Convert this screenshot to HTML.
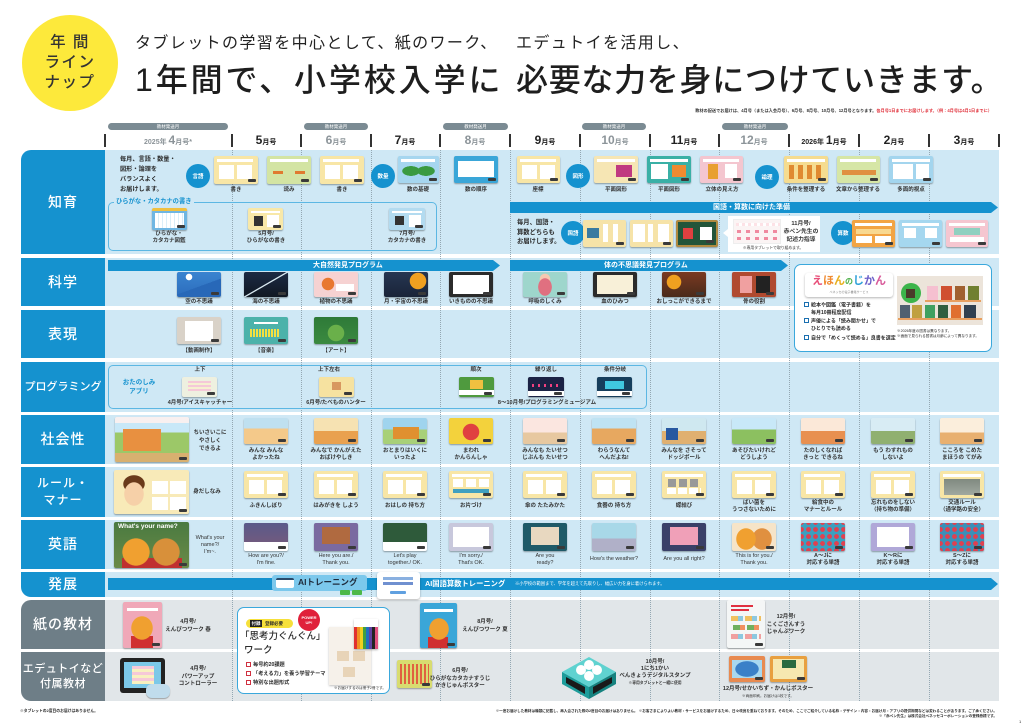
<!DOCTYPE html>
<html><head><meta charset="utf-8">
<style>
*{box-sizing:border-box;margin:0;padding:0}
body{width:1024px;height:728px;position:relative;overflow:hidden;background:#fff;font-family:"Liberation Sans","Noto Sans CJK JP",sans-serif;color:#2a2a2a}
.a{position:absolute}
.rl{position:absolute;left:21px;width:84px;background:#1592cf;color:#fff;display:flex;align-items:center;justify-content:center;text-align:center;font-family:"Liberation Sans","Noto Sans CJK JP",sans-serif;font-weight:500;font-size:14px;line-height:17px;letter-spacing:1px}
.rb{position:absolute;left:105px;width:894px;background:#cfe8f5}
.dl{position:absolute;top:150px;height:551px;width:0;border-left:1px dotted #93a7b2}
.th{position:absolute;border-radius:2px;box-shadow:0 1px 1.5px rgba(0,0,0,.35);width:44px}
.th::after{content:"";position:absolute;right:2px;bottom:2px;width:8px;height:3px;border-radius:1px;background:#3a3a3a}
.lb{position:absolute;transform:translateX(-50%);white-space:nowrap;text-align:center;font-size:5.5px;line-height:7px;font-weight:bold;color:#333}
.ci{position:absolute;width:24px;height:24px;border-radius:50%;background:#1592cf;color:#fff;font-size:5.5px;font-weight:bold;display:flex;align-items:center;justify-content:center}
.ban{position:absolute;background:#1592cf;color:#fff;font-weight:bold;font-size:7px;line-height:11px;white-space:nowrap;clip-path:polygon(0 0,calc(100% - 7px) 0,100% 50%,calc(100% - 7px) 100%,0 100%)}
.mo{position:absolute;top:133px;transform:translateX(-50%);white-space:nowrap;font-weight:bold;font-size:12px;line-height:14px;color:#222}
.mo small{font-size:7px}
.g{color:#8c9499}
.vl{position:absolute;top:134px;width:1.5px;height:13px;background:#333}
.pill{position:absolute;top:123px;height:7px;border-radius:4px;background:#7b8b93;color:#fff;font-size:4.5px;line-height:7px;text-align:center}
.yl{background:linear-gradient(#fff,#fff) 3px 3px/36px 3px no-repeat,linear-gradient(#fff,#fff) 5px 9px/15px 14px no-repeat,linear-gradient(#fff,#fff) 23px 9px/15px 14px no-repeat,#f8e6a6}
.ck{display:inline-block;width:5px;height:5px;border:0.8px solid #1a6fb0;margin-right:2px;vertical-align:-0.5px;background:#fff}
.ckr{display:inline-block;width:5px;height:5px;border:0.8px solid #d03040;margin-right:2px;vertical-align:-0.5px;background:#fff}
</style></head><body>

<!-- header -->
<div class="a" style="left:22px;top:15px;width:96px;height:96px;border-radius:50%;background:#fde93b"></div>
<div class="a" style="left:22px;top:33px;width:96px;text-align:center;font-family:'Liberation Sans','Noto Sans CJK JP',sans-serif;font-size:15.5px;line-height:20px;font-weight:500;letter-spacing:1.5px;color:#333">年 間<br>ライン<br>ナップ</div>

<div class="a" style="left:135px;top:35px;font-size:16px;line-height:18px;letter-spacing:1.4px;white-space:nowrap;color:#222">タブレットの学習を中心として、紙のワーク、</div>
<div class="a" style="left:516px;top:35px;font-size:16px;line-height:18px;letter-spacing:1.4px;white-space:nowrap;color:#222">エデュトイを活用し、</div>
<div class="a" style="left:135px;top:62px;font-size:32px;line-height:36px;letter-spacing:2.9px;white-space:nowrap;font-weight:500;color:#1e1e1e">1年間で、小学校入学に</div>
<div class="a" style="left:516px;top:62px;font-size:32px;line-height:36px;letter-spacing:0.7px;white-space:nowrap;font-weight:500;color:#1e1e1e">必要な力を身につけていきます。</div>

<div class="a" style="right:32px;top:108px;font-size:4.2px;line-height:6px;white-space:nowrap;font-weight:bold;color:#333">教材の配送でお届けは、4月号（または入会月号）、6月号、8月号、10月号、12月号となります。<span style="color:#e0303a">各月号1日までにお届けします。（例：4月号は4月1日までに）</span></div>

<div class="pill" style="left:108px;width:120px">教材発送月</div>
<div class="pill" style="left:304px;width:64px">教材発送月</div>
<div class="pill" style="left:443px;width:65px">教材発送月</div>
<div class="pill" style="left:582px;width:64px">教材発送月</div>
<div class="pill" style="left:722px;width:66px">教材発送月</div>

<div class="vl" style="left:104px"></div><div class="vl" style="left:231px"></div><div class="vl" style="left:300px"></div><div class="vl" style="left:370px"></div><div class="vl" style="left:439px"></div><div class="vl" style="left:509px"></div><div class="vl" style="left:579px"></div><div class="vl" style="left:649px"></div><div class="vl" style="left:718px"></div><div class="vl" style="left:788px"></div><div class="vl" style="left:858px"></div><div class="vl" style="left:928px"></div><div class="vl" style="left:998px"></div>

<div class="mo g" style="left:168px"><small>2025年 </small>4<small>月号*</small></div>
<div class="mo" style="left:266px">5<small>月号</small></div>
<div class="mo g" style="left:336px">6<small>月号</small></div>
<div class="mo" style="left:405px">7<small>月号</small></div>
<div class="mo g" style="left:475px">8<small>月号</small></div>
<div class="mo" style="left:545px">9<small>月号</small></div>
<div class="mo g" style="left:615px">10<small>月号</small></div>
<div class="mo" style="left:684px">11<small>月号</small></div>
<div class="mo g" style="left:754px">12<small>月号</small></div>
<div class="mo" style="left:824px"><small>2026年 </small>1<small>月号</small></div>
<div class="mo" style="left:894px">2<small>月号</small></div>
<div class="mo" style="left:964px">3<small>月号</small></div>

<!-- row labels -->
<div class="rl" style="top:150px;height:104px;border-top-left-radius:10px">知育</div>
<div class="rl" style="top:258px;height:48px">科学</div>
<div class="rl" style="top:310px;height:48px">表現</div>
<div class="rl" style="top:362px;height:50px;font-size:11px;letter-spacing:0">プログラミング</div>
<div class="rl" style="top:415px;height:49px">社会性</div>
<div class="rl" style="top:467px;height:50px;font-size:12px;line-height:17px">ルール・<br>マナー</div>
<div class="rl" style="top:520px;height:49px">英語</div>
<div class="rl" style="top:572px;height:25px;border-bottom-left-radius:10px">発展</div>
<div class="rl" style="top:600px;height:49px;background:#6e7e87;border-top-left-radius:10px">紙の教材</div>
<div class="rl" style="top:652px;height:49px;background:#6e7e87;border-bottom-left-radius:10px;font-size:11px;line-height:15px;letter-spacing:0.5px">エデュトイなど<br>付属教材</div>

<!-- row backgrounds -->
<div class="rb" style="top:150px;height:104px"></div>
<div class="rb" style="top:258px;height:48px"></div>
<div class="rb" style="top:310px;height:48px"></div>
<div class="rb" style="top:362px;height:50px"></div>
<div class="rb" style="top:415px;height:49px"></div>
<div class="rb" style="top:467px;height:50px"></div>
<div class="rb" style="top:520px;height:49px"></div>
<div class="rb" style="top:572px;height:25px"></div>
<div class="rb" style="top:600px;height:49px;background:#e1e6e9"></div>
<div class="rb" style="top:652px;height:49px;background:#e1e6e9"></div>

<!-- dotted column lines -->
<div class="dl" style="left:232px"></div><div class="dl" style="left:301px"></div><div class="dl" style="left:371px"></div><div class="dl" style="left:440px"></div><div class="dl" style="left:510px"></div><div class="dl" style="left:580px"></div><div class="dl" style="left:650px"></div><div class="dl" style="left:719px"></div><div class="dl" style="left:789px"></div><div class="dl" style="left:859px"></div><div class="dl" style="left:929px"></div>

<!-- 知育 row 1 -->
<div class="a" style="left:120px;top:155px;font-size:6.2px;line-height:10px;font-weight:bold;white-space:nowrap">毎月、言語・数量・<br>図形・論理を<br>バランスよく<br>お届けします。</div>
<div class="ci" style="left:186px;top:164px">言語</div>
<div class="ci" style="left:371px;top:164px">数量</div>
<div class="ci" style="left:566px;top:164px">図形</div>
<div class="ci" style="left:755px;top:165px">論理</div>

<div class="th yl" style="left:214px;top:156px;height:28px"></div>
<div class="th" style="left:267px;top:156px;height:28px;background:linear-gradient(#fff,#fff) 3px 3px/38px 3px no-repeat,linear-gradient(#e07a30,#e07a30) 6px 15px/10px 3px no-repeat,linear-gradient(#e07a30,#e07a30) 28px 15px/10px 3px no-repeat,#d3e4a3"></div>
<div class="th yl" style="left:320px;top:156px;height:28px"></div>
<div class="th" style="left:398px;top:156px;height:27px;width:41px;background:linear-gradient(#fff,#fff) 3px 3px/34px 3px no-repeat,radial-gradient(ellipse 9px 5px at 13px 15px,#3a9a40 95%,transparent),radial-gradient(ellipse 9px 5px at 28px 15px,#3a9a40 95%,transparent),#a6d6ef"></div>
<div class="th" style="left:454px;top:156px;height:27px;background:linear-gradient(#fff,#fff) 4px 5px/36px 16px no-repeat,#3aa6d8"></div>
<div class="th yl" style="left:517px;top:156px;height:27px;width:43px"></div>
<div class="th" style="left:594px;top:156px;height:27px;background:linear-gradient(#fff,#fff) 3px 3px/38px 3px no-repeat,linear-gradient(#c03a80,#c03a80) 22px 9px/16px 12px no-repeat,#f6e6b4"></div>
<div class="th" style="left:647px;top:156px;height:27px;background:linear-gradient(#fff,#fff) 3px 3px/38px 3px no-repeat,linear-gradient(#fff,#fff) 4px 8px/17px 15px no-repeat,linear-gradient(#f08a30,#f08a30) 25px 9px/14px 12px no-repeat,#3ab0a6"></div>
<div class="th" style="left:700px;top:156px;height:27px;width:43px;background:linear-gradient(#fff,#fff) 3px 3px/36px 3px no-repeat,linear-gradient(#e8a030,#e8a030) 8px 8px/10px 15px no-repeat,linear-gradient(#fff,#fff) 25px 8px/12px 14px no-repeat,#f4c6cf"></div>
<div class="th" style="left:784px;top:156px;height:27px;background:linear-gradient(#fff,#fff) 3px 3px/38px 3px no-repeat,repeating-linear-gradient(90deg,#e08a30 0 5px,transparent 5px 9px) 5px 9px/36px 14px no-repeat,#f5dc90"></div>
<div class="th" style="left:837px;top:156px;height:27px;width:43px;background:linear-gradient(#fff,#fff) 3px 3px/36px 3px no-repeat,linear-gradient(#e09040,#e09040) 5px 14px/34px 5px no-repeat,#d6e6a6"></div>
<div class="th" style="left:889px;top:156px;height:27px;background:linear-gradient(#fff,#fff) 3px 3px/38px 3px no-repeat,linear-gradient(#fff,#fff) 4px 8px/20px 15px no-repeat,linear-gradient(#fff,#fff) 27px 8px/13px 15px no-repeat,#a3d5ee"></div>

<div class="lb" style="left:236px;top:187px">書き</div>
<div class="lb" style="left:289px;top:187px">読み</div>
<div class="lb" style="left:342px;top:187px">書き</div>
<div class="lb" style="left:418px;top:187px">数の基礎</div>
<div class="lb" style="left:476px;top:187px">数の順序</div>
<div class="lb" style="left:538px;top:187px">座標</div>
<div class="lb" style="left:616px;top:187px">平面図形</div>
<div class="lb" style="left:669px;top:187px">平面図形</div>
<div class="lb" style="left:722px;top:187px">立体の見え方</div>
<div class="lb" style="left:806px;top:187px">条件を整理する</div>
<div class="lb" style="left:858px;top:187px">文章から整理する</div>
<div class="lb" style="left:911px;top:187px">多面的視点</div>

<!-- 知育 row 2 -->
<div class="a" style="left:108px;top:202px;width:329px;height:49px;border:1px solid #5cb7e3;border-radius:5px"></div>
<div class="a" style="left:114px;top:198px;padding:0 2px;background:#cfe8f5;color:#1592cf;font-size:6.3px;line-height:8px;font-weight:bold;white-space:nowrap">ひらがな・カタカナの書き</div>
<div class="th" style="left:152px;top:208px;width:35px;height:22px;background:linear-gradient(#f0c040,#f0c040) 0 0/100% 3px no-repeat,repeating-linear-gradient(90deg,#fff 0 3px,#dbeef8 3px 4px) 3px 5px/29px 15px no-repeat,#6fb6e2"></div>
<div class="th" style="left:248px;top:208px;width:35px;height:22px;background:linear-gradient(#fff,#fff) 3px 3px/29px 2px no-repeat,linear-gradient(#333,#333) 6px 8px/9px 10px no-repeat,linear-gradient(#fff,#fff) 19px 7px/12px 12px no-repeat,#f8e8a8"></div>
<div class="th" style="left:389px;top:208px;width:36px;height:22px;background:linear-gradient(#fff,#fff) 3px 3px/30px 2px no-repeat,linear-gradient(#333,#333) 6px 8px/9px 9px no-repeat,linear-gradient(#fff,#fff) 20px 7px/12px 12px no-repeat,#b3dbf0"></div>
<div class="lb" style="left:169px;top:231px">ひらがな・<br>カタカナ図鑑</div>
<div class="lb" style="left:266px;top:231px">5月号/<br>ひらがなの書き</div>
<div class="lb" style="left:407px;top:231px">7月号/<br>カタカナの書き</div>

<div class="ban" style="left:510px;top:202px;width:488px;height:11px;padding-left:203px">国語・算数に向けた準備</div>
<div class="a" style="left:517px;top:218px;font-size:6.3px;line-height:9.5px;font-weight:bold;white-space:nowrap">毎月、国語・<br>算数どちらも<br>お届けします。</div>
<div class="ci" style="left:561px;top:221px">国語</div>
<div class="th" style="left:583px;top:220px;width:43px;height:27px;background:linear-gradient(#3a7aa0,#3a7aa0) 4px 8px/12px 10px no-repeat,linear-gradient(#fff,#fff) 20px 4px/5px 18px no-repeat,linear-gradient(#fff,#fff) 30px 4px/5px 18px no-repeat,#f6e3a8"></div>
<div class="th" style="left:630px;top:220px;width:43px;height:27px;background:linear-gradient(#fff,#fff) 3px 4px/12px 18px no-repeat,linear-gradient(#fff,#fff) 18px 4px/5px 18px no-repeat,linear-gradient(#fff,#fff) 28px 4px/11px 18px no-repeat,#f6e3a8"></div>
<div class="th" style="left:676px;top:220px;width:42px;height:27px;border:2px solid #b08a40;background:linear-gradient(#e04040,#e04040) 5px 6px/10px 11px no-repeat,linear-gradient(#fff,#fff) 22px 5px/12px 13px no-repeat,#22553a"></div>
<div class="a" style="left:728px;top:216px;width:92px;height:36px;background:#fff"></div>
<div class="a" style="left:723px;top:229px;width:0;height:0;border-top:4px solid transparent;border-bottom:4px solid transparent;border-right:5px solid #fff"></div>
<div class="a" style="left:733px;top:219px;width:48px;height:25px;background:repeating-linear-gradient(90deg,#fde2e6 0 3px,#fff 3px 6px) 2px 3px/44px 3px no-repeat,repeating-linear-gradient(90deg,#f08aa0 0 4px,transparent 4px 9px) 3px 10px/42px 3px no-repeat,repeating-linear-gradient(90deg,#f08aa0 0 4px,transparent 4px 9px) 3px 17px/42px 3px no-repeat,#fbf4f4;border:0.5px solid #eee"></div>
<div class="lb" style="left:801px;top:220px;line-height:8px;font-size:5.8px">11月号/<br>赤ペン先生の<br>記述力指導</div>
<div class="lb" style="left:773px;top:246px;font-size:3.8px;line-height:5px;font-weight:normal">※専用タブレットで取り組めます。</div>
<div class="ci" style="left:831px;top:221px">算数</div>
<div class="th" style="left:852px;top:220px;width:43px;height:27px;background:linear-gradient(#fff,#fff) 3px 3px/37px 3px no-repeat,linear-gradient(#f8d890,#f8d890) 4px 9px/35px 5px no-repeat,linear-gradient(#fff,#fff) 4px 16px/16px 7px no-repeat,linear-gradient(#fff,#fff) 23px 16px/16px 7px no-repeat,#f2a444"></div>
<div class="th" style="left:899px;top:220px;width:43px;height:27px;background:linear-gradient(#fff,#fff) 3px 3px/37px 3px no-repeat,linear-gradient(#fff,#fff) 5px 8px/12px 10px no-repeat,linear-gradient(#fff,#fff) 26px 8px/12px 10px no-repeat,#a5d7ef"></div>
<div class="th" style="left:946px;top:220px;width:42px;height:27px;background:linear-gradient(#fff,#fff) 3px 3px/36px 3px no-repeat,linear-gradient(#8fd0c0,#8fd0c0) 8px 8px/26px 7px no-repeat,linear-gradient(#fff,#fff) 4px 17px/34px 5px no-repeat,#f5c6d0"></div>

<!-- 科学 -->
<div class="ban" style="left:108px;top:260px;width:392px;height:11px;padding-left:205px">大自然発見プログラム</div>
<div class="ban" style="left:510px;top:260px;width:278px;height:11px;padding-left:94px">体の不思議発見プログラム</div>
<div class="th" style="left:177px;top:272px;height:25px;background:linear-gradient(160deg,transparent 55%,#2868b8 55%),radial-gradient(circle at 12px 5px,#fff 3px,transparent 3.5px),linear-gradient(#3a84d0,#2c6cbc)"></div>
<div class="th" style="left:244px;top:272px;height:25px;background:linear-gradient(150deg,transparent 48%,#d8e8f0 49% 51%,transparent 52%),linear-gradient(#1c2a44,#111822)"></div>
<div class="th" style="left:314px;top:272px;height:25px;background:radial-gradient(circle at 14px 12px,#e87830 6px,transparent 6.5px),linear-gradient(#fff,#fff) 22px 12px/18px 7px no-repeat,#f6d2d2"></div>
<div class="th" style="left:384px;top:272px;height:25px;background:radial-gradient(circle at 34px 9px,#f0a020 8px,transparent 8.5px),linear-gradient(#263652,#1a2438)"></div>
<div class="th" style="left:449px;top:272px;height:25px;background:linear-gradient(#fff,#fff) 4px 3px/36px 19px no-repeat,linear-gradient(#c87830,#c87830) 6px 10px/15px 9px no-repeat,#2b2b2b"></div>
<div class="th" style="left:523px;top:272px;height:25px;background:radial-gradient(ellipse 7px 9px at 22px 15px,#e07080 95%,transparent),radial-gradient(circle at 22px 7px,#f6c8b0 5px,transparent 5.5px),#9ed6cc"></div>
<div class="th" style="left:593px;top:272px;height:25px;background:linear-gradient(#f8f0d8,#f8f0d8) 4px 3px/36px 19px no-repeat,linear-gradient(#e05050,#e05050) 6px 10px/32px 5px no-repeat,#2b2b2b"></div>
<div class="th" style="left:662px;top:272px;height:25px;background:radial-gradient(circle at 12px 10px,#f0a020 7px,transparent 7.5px),linear-gradient(#7a3a22,#4a2a1a)"></div>
<div class="th" style="left:732px;top:272px;height:25px;background:linear-gradient(#f0a0a0,#f0a0a0) 8px 4px/12px 17px no-repeat,linear-gradient(#222,#222) 24px 4px/14px 17px no-repeat,#b04a30"></div>
<div class="lb" style="left:199px;top:299px">空の不思議</div>
<div class="lb" style="left:266px;top:299px">海の不思議</div>
<div class="lb" style="left:336px;top:299px">植物の不思議</div>
<div class="lb" style="left:406px;top:299px">月・宇宙の不思議</div>
<div class="lb" style="left:471px;top:299px">いきものの不思議</div>
<div class="lb" style="left:545px;top:299px">呼吸のしくみ</div>
<div class="lb" style="left:615px;top:299px">血のひみつ</div>
<div class="lb" style="left:684px;top:299px">おしっこができるまで</div>
<div class="lb" style="left:754px;top:299px">骨の役割</div>

<!-- えほんのじかん -->
<div class="a" style="left:794px;top:264px;width:198px;height:88px;background:#fff;border:1.5px solid #3aa8dc;border-radius:7px"></div>
<div class="a" style="left:805px;top:273px;width:88px;height:24px;background:#fff;border-radius:3px;box-shadow:0 1px 2px rgba(0,0,0,.3);text-align:center;font-size:11px;line-height:17px;font-weight:bold;white-space:nowrap"><span style="color:#e8507a">え</span><span style="color:#f08a30">ほ</span><span style="color:#e8b020">ん</span><span style="color:#4cb048;font-size:8px">の</span><span style="color:#2ea0d8">じ</span><span style="color:#6a5ec8">か</span><span style="color:#d85a9a">ん</span><div style="font-size:3px;line-height:4px;color:#888;font-weight:normal">ベネッセの電子書籍サービス</div></div>
<div class="a" style="left:804px;top:302px;font-size:5px;line-height:7.5px;font-weight:bold;white-space:nowrap"><span class="ck"></span>絵本や図鑑（電子書籍）を<br><span style="padding-left:7px">毎月10冊程度配信</span></div>
<div class="a" style="left:804px;top:318px;font-size:5px;line-height:7.5px;font-weight:bold;white-space:nowrap"><span class="ck"></span>声優による「読み聞かせ」で<br><span style="padding-left:7px">ひとりでも読める</span></div>
<div class="a" style="left:804px;top:335px;font-size:5px;line-height:7.5px;font-weight:bold;white-space:nowrap"><span class="ck"></span>自分で「めくって読める」良書を選定</div>
<div class="a" style="left:897px;top:273px;width:86px;height:52px;background:#ece4da;border-top:3px solid #fff"></div>
<div class="a" style="left:901px;top:283px;width:20px;height:20px;border-radius:50%;background:#3cb44a"></div>
<div class="a" style="left:906px;top:289px;width:9px;height:9px;background:#4a3a2a"></div>
<div class="a" style="left:927px;top:286px;width:11px;height:14px;background:#f5c0d0"></div>
<div class="a" style="left:941px;top:286px;width:11px;height:14px;background:#d05030"></div>
<div class="a" style="left:955px;top:286px;width:10px;height:14px;background:#a06030"></div>
<div class="a" style="left:968px;top:286px;width:11px;height:14px;background:#708030"></div>
<div class="a" style="left:925px;top:300px;width:56px;height:2px;background:#e8a060"></div>
<div class="a" style="left:900px;top:305px;width:10px;height:13px;background:#506070"></div>
<div class="a" style="left:912px;top:305px;width:10px;height:13px;background:#c0a040"></div>
<div class="a" style="left:925px;top:305px;width:10px;height:13px;background:#40a060"></div>
<div class="a" style="left:938px;top:305px;width:10px;height:13px;background:#306040"></div>
<div class="a" style="left:951px;top:305px;width:10px;height:13px;background:#e07030"></div>
<div class="a" style="left:964px;top:305px;width:12px;height:13px;background:#304050"></div>
<div class="a" style="left:898px;top:318px;width:84px;height:2px;background:#e8a060"></div>
<div class="a" style="left:897px;top:329px;font-size:3.6px;line-height:4.8px;white-space:nowrap">※2026年度の図書は異なります。<br>※画面で見られる図書は月齢によって異なります。</div>

<!-- 表現 -->
<div class="th" style="left:177px;top:317px;height:27px;background:linear-gradient(#fff,#fff) 8px 4px/28px 20px no-repeat,repeating-linear-gradient(90deg,#e8c8a0 0 1px,transparent 1px 7px) 8px 4px/28px 20px no-repeat,#d9d2c8"></div>
<div class="th" style="left:244px;top:317px;height:27px;background:repeating-linear-gradient(90deg,#f4e040 0 2px,transparent 2px 3px) 6px 12px/30px 8px no-repeat,linear-gradient(#fff,#fff) 10px 5px/24px 2px no-repeat,#4cb2aa"></div>
<div class="th" style="left:314px;top:317px;height:27px;background:radial-gradient(circle at 22px 16px,#6ab04a 8px,transparent 8.5px),linear-gradient(#2e7a38,#3b8a40)"></div>
<div class="lb" style="left:199px;top:348px">【動画制作】</div>
<div class="lb" style="left:266px;top:348px">【音楽】</div>
<div class="lb" style="left:336px;top:348px">【アート】</div>

<!-- プログラミング -->
<div class="a" style="left:108px;top:365px;width:539px;height:44px;border:1px solid #5cb7e3;border-radius:5px"></div>
<div class="a" style="left:121px;top:378px;width:36px;text-align:center;color:#1592cf;font-size:6.5px;line-height:9px;font-weight:bold;white-space:nowrap">おたのしみ<br>アプリ</div>
<div class="lb" style="left:200px;top:367px">上下</div>
<div class="lb" style="left:329px;top:367px">上下左右</div>
<div class="lb" style="left:476px;top:367px">順次</div>
<div class="lb" style="left:546px;top:367px">繰り返し</div>
<div class="lb" style="left:615px;top:367px">条件分岐</div>
<div class="th" style="left:182px;top:377px;width:35px;height:20px;background:repeating-linear-gradient(#f5c8d8 0 2px,#f6f0d0 2px 4px) 6px 4px/23px 10px no-repeat,#eef0e0"></div>
<div class="th" style="left:319px;top:377px;width:35px;height:20px;background:linear-gradient(#d89860,#d89860) 13px 5px/9px 8px no-repeat,#f6e2a0"></div>
<div class="th" style="left:459px;top:377px;width:35px;height:20px;background:linear-gradient(#f0c040,#f0c040) 11px 3px/13px 9px no-repeat,linear-gradient(#fff,#fff) 0 13px/100% 5px no-repeat,#4f9a3e"></div>
<div class="th" style="left:528px;top:377px;width:36px;height:20px;background:repeating-linear-gradient(90deg,#f04080 0 2px,transparent 2px 6px) 4px 7px/28px 3px no-repeat,linear-gradient(#fff,#fff) 0 14px/100% 5px no-repeat,#1b2244"></div>
<div class="th" style="left:597px;top:377px;width:35px;height:20px;background:linear-gradient(#40c8e0,#40c8e0) 8px 4px/19px 8px no-repeat,linear-gradient(#fff,#fff) 0 14px/100% 5px no-repeat,#163e5c"></div>
<div class="lb" style="left:200px;top:400px">4月号/アイスキャッチャー</div>
<div class="lb" style="left:336px;top:400px">6月号/たべものハンター</div>
<div class="lb" style="left:547px;top:400px">8〜10月号/プログラミングミュージアム</div>

<!-- 社会性 -->
<div class="th" style="left:115px;top:417px;width:74px;height:45px;background:linear-gradient(#f8f0f0,#f8f0f0) 0 0/100% 6px no-repeat,linear-gradient(#e89040,#e89040) 8px 12px/38px 22px no-repeat,linear-gradient(#4a90c8,#4a90c8) 10px 18px/34px 8px no-repeat,linear-gradient(#c8e8f8 0 35%,#9cc868 35% 80%,#d8b070 80%)"></div>
<div class="lb" style="left:210px;top:429px;line-height:8px">ちいさいこに<br>やさしく<br>できるよ</div>
<div class="th" style="left:244px;top:418px;height:26px;background:linear-gradient(#bfe0f0 0 40%,#f4c98a 40%)"></div>
<div class="th" style="left:314px;top:418px;height:26px;background:linear-gradient(#f6e2b2 0 50%,#e9a14f 50%)"></div>
<div class="th" style="left:383px;top:418px;height:26px;background:linear-gradient(#e09030,#e09030) 10px 9px/26px 12px no-repeat,linear-gradient(#9fd4ee 0 45%,#a8d078 45%)"></div>
<div class="th" style="left:449px;top:418px;height:26px;background:radial-gradient(circle at 22px 14px,#e04040 8px,transparent 8.5px),#f3d23c"></div>
<div class="th" style="left:523px;top:418px;height:26px;background:linear-gradient(#fbe6e0 0 55%,#e7c8a0 55%)"></div>
<div class="th" style="left:592px;top:418px;height:26px;background:linear-gradient(#bfe3f3 0 40%,#e7a860 40%)"></div>
<div class="th" style="left:662px;top:418px;height:26px;background:linear-gradient(#2858a0,#2858a0) 4px 10px/12px 12px no-repeat,linear-gradient(#cfe8f0 0 50%,#e0b070 50%)"></div>
<div class="th" style="left:732px;top:418px;height:26px;background:linear-gradient(#c8e8f8 0 45%,#8cc060 45%)"></div>
<div class="th" style="left:801px;top:418px;height:26px;background:linear-gradient(#fbe8d8 0 50%,#e89050 50%)"></div>
<div class="th" style="left:871px;top:418px;height:26px;background:linear-gradient(#d8ecf4 0 50%,#90b070 50%)"></div>
<div class="th" style="left:940px;top:418px;height:26px;background:linear-gradient(#fbeedc 0 55%,#e8b070 55%)"></div>
<div class="lb" style="left:266px;top:448px">みんな みんな<br>よかったね</div>
<div class="lb" style="left:336px;top:448px">みんなで かんがえた<br>おばけやしき</div>
<div class="lb" style="left:405px;top:448px">おとまりはいくに<br>いったよ</div>
<div class="lb" style="left:471px;top:448px">まわれ<br>かんらんしゃ</div>
<div class="lb" style="left:545px;top:448px">みんなも たいせつ<br>じぶんも たいせつ</div>
<div class="lb" style="left:614px;top:448px">わらうなんて<br>へんだよね!</div>
<div class="lb" style="left:684px;top:448px">みんなを さそって<br>ドッジボール</div>
<div class="lb" style="left:754px;top:448px">あそびたいけれど<br>どうしよう</div>
<div class="lb" style="left:823px;top:448px">たのしくなれば<br>きっと できるね</div>
<div class="lb" style="left:893px;top:448px">もう わすれもの<br>しないよ</div>
<div class="lb" style="left:962px;top:448px">こころを こめた<br>まほうの てがみ</div>

<!-- ルール・マナー -->
<div class="th" style="left:114px;top:470px;width:75px;height:44px;background:linear-gradient(#fff,#fff) 38px 11px/16px 13px no-repeat,linear-gradient(#fff,#fff) 56px 11px/16px 13px no-repeat,linear-gradient(#fff,#fff) 38px 27px/16px 13px no-repeat,linear-gradient(#fff,#fff) 56px 27px/16px 13px no-repeat,radial-gradient(ellipse 10px 12px at 20px 24px,#f6d0a8 95%,transparent),radial-gradient(ellipse 11px 9px at 20px 14px,#6a3a1a 95%,transparent),#f8eab8"></div>
<div class="lb" style="left:207px;top:489px">身だしなみ</div>
<div class="th yl" style="left:244px;top:471px;height:27px"></div>
<div class="th yl" style="left:314px;top:471px;height:27px"></div>
<div class="th yl" style="left:383px;top:471px;height:27px"></div>
<div class="th" style="left:449px;top:471px;height:27px;background:linear-gradient(#fff,#fff) 3px 3px/38px 3px no-repeat,linear-gradient(#fff,#fff) 4px 8px/10px 8px no-repeat,linear-gradient(#fff,#fff) 17px 8px/10px 8px no-repeat,linear-gradient(#fff,#fff) 30px 8px/10px 8px no-repeat,linear-gradient(#40a0c0,#40a0c0) 4px 18px/36px 4px no-repeat,#f8e6a6"></div>
<div class="th yl" style="left:523px;top:471px;height:27px"></div>
<div class="th yl" style="left:592px;top:471px;height:27px"></div>
<div class="th" style="left:662px;top:471px;height:27px;background:linear-gradient(#fff,#fff) 3px 3px/38px 3px no-repeat,repeating-linear-gradient(90deg,#999 0 8px,transparent 8px 11px) 6px 8px/33px 8px no-repeat,repeating-linear-gradient(90deg,#fff 0 9px,transparent 9px 11px) 5px 17px/34px 6px no-repeat,#f8e6a6"></div>
<div class="th yl" style="left:732px;top:471px;height:27px"></div>
<div class="th yl" style="left:801px;top:471px;height:27px"></div>
<div class="th yl" style="left:871px;top:471px;height:27px"></div>
<div class="th" style="left:940px;top:471px;height:27px;background:linear-gradient(#fff,#fff) 3px 3px/38px 3px no-repeat,linear-gradient(#808a80,#a0a8a0) 4px 8px/36px 16px no-repeat,#f8e6a6"></div>
<div class="lb" style="left:266px;top:503px">ふきんしぼり</div>
<div class="lb" style="left:336px;top:503px">はみがきを しよう</div>
<div class="lb" style="left:405px;top:503px">おはしの 持ち方</div>
<div class="lb" style="left:471px;top:503px">お片づけ</div>
<div class="lb" style="left:545px;top:503px">傘の たたみかた</div>
<div class="lb" style="left:614px;top:503px">食器の 持ち方</div>
<div class="lb" style="left:684px;top:503px">蝶結び</div>
<div class="lb" style="left:754px;top:500px">ばい菌を<br>うつさないために</div>
<div class="lb" style="left:823px;top:500px">給食中の<br>マナーとルール</div>
<div class="lb" style="left:893px;top:500px">忘れものをしない<br>（持ち物の準備）</div>
<div class="lb" style="left:962px;top:500px">交通ルール<br>（通学路の安全）</div>

<!-- 英語 -->
<div class="th" style="left:114px;top:522px;width:75px;height:46px;background:radial-gradient(ellipse 14px 14px at 22px 30px,#f0a030 95%,transparent),radial-gradient(ellipse 14px 14px at 52px 30px,#d8903a 95%,transparent),linear-gradient(#c03030,#c03030) 8px 36px/60px 10px no-repeat,linear-gradient(#4a7a40,#6a8a48)"></div>
<div class="a" style="left:118px;top:523px;font-size:6.5px;line-height:8px;font-weight:bold;color:#fff;white-space:nowrap">What's your name?</div>
<div class="lb" style="left:210px;top:535px;font-weight:normal">What's your<br>name?/<br>I'm~.</div>
<div class="th" style="left:244px;top:523px;height:28px;background:linear-gradient(#fff,#fff) 0 19px/100% 9px no-repeat,linear-gradient(#5a5a8a,#7a5a7a)"></div>
<div class="th" style="left:314px;top:523px;height:28px;background:linear-gradient(#b06a40,#b06a40) 8px 4px/28px 17px no-repeat,#7a6aa0"></div>
<div class="th" style="left:383px;top:523px;height:28px;background:linear-gradient(#fff,#fff) 0 19px/100% 9px no-repeat,#2e5a3a"></div>
<div class="th" style="left:449px;top:523px;height:28px;background:linear-gradient(#fff,#fff) 4px 4px/36px 20px no-repeat,#c8c8dc"></div>
<div class="th" style="left:523px;top:523px;height:28px;background:linear-gradient(#e8d8c0,#e8d8c0) 8px 4px/28px 18px no-repeat,#1f5a68"></div>
<div class="th" style="left:592px;top:523px;height:28px;background:linear-gradient(#a8d8e8 0 55%,#b0b0c8 55%)"></div>
<div class="th" style="left:662px;top:523px;height:28px;background:linear-gradient(#f0a0b8,#f0a0b8) 8px 4px/28px 18px no-repeat,#3a4068"></div>
<div class="th" style="left:732px;top:523px;height:28px;background:radial-gradient(ellipse 10px 11px at 14px 16px,#f0a030 95%,transparent),radial-gradient(ellipse 10px 11px at 30px 16px,#e09040 95%,transparent),#f6e4c8"></div>
<div class="th" style="left:801px;top:523px;height:28px;background:radial-gradient(circle,#e04050 2.2px,transparent 2.6px) 4px 3px/7px 7px,#3aa0c0"></div>
<div class="th" style="left:871px;top:523px;height:28px;background:linear-gradient(#fff,#fff) 6px 4px/32px 20px no-repeat,#b0a8d8"></div>
<div class="th" style="left:940px;top:523px;height:28px;background:radial-gradient(circle,#e04050 2.2px,transparent 2.6px) 4px 3px/7px 7px,#3a90b8"></div>
<div class="lb" style="left:266px;top:553px;font-weight:normal">How are you?/<br>I'm fine.</div>
<div class="lb" style="left:336px;top:553px;font-weight:normal">Here you are./<br>Thank you.</div>
<div class="lb" style="left:405px;top:553px;font-weight:normal">Let's play<br>together./ OK.</div>
<div class="lb" style="left:471px;top:553px;font-weight:normal">I'm sorry./<br>That's OK.</div>
<div class="lb" style="left:545px;top:553px;font-weight:normal">Are you<br>ready?</div>
<div class="lb" style="left:614px;top:556px;font-weight:normal">How's the weather?</div>
<div class="lb" style="left:684px;top:556px;font-weight:normal">Are you all right?</div>
<div class="lb" style="left:754px;top:553px;font-weight:normal">This is for you./<br>Thank you.</div>
<div class="lb" style="left:823px;top:553px">A〜Jに<br>対応する単語</div>
<div class="lb" style="left:893px;top:553px">K〜Rに<br>対応する単語</div>
<div class="lb" style="left:962px;top:553px">S〜Zに<br>対応する単語</div>

<!-- 発展 -->
<div class="ban" style="left:108px;top:578px;width:890px;height:12px"></div>
<div class="a" style="left:272px;top:575px;width:95px;height:16px;background:#7cc8ec;border-radius:3px"></div>
<div class="a" style="left:276px;top:578px;width:18px;height:10px;background:#fff;border-radius:2px;border-top:2px solid #2a4a6a"></div>
<div class="a" style="left:298px;top:577px;font-size:8.5px;line-height:11px;font-weight:bold;color:#1e2a3a;white-space:nowrap">AIトレーニング</div>
<div class="a" style="left:340px;top:590px;width:10px;height:5px;background:#4cb848;border-radius:1px"></div>
<div class="a" style="left:352px;top:590px;width:10px;height:5px;background:#4cb848;border-radius:1px"></div>
<div class="a" style="left:377px;top:572px;width:43px;height:27px;background:#fff;border-radius:3px;box-shadow:0 1px 2px rgba(0,0,0,.3)"></div>
<div class="a" style="left:383px;top:577px;width:30px;height:3px;background:#8ab0e0"></div>
<div class="a" style="left:383px;top:582px;width:30px;height:3px;background:#7090d0"></div>
<div class="a" style="left:390px;top:591px;width:16px;height:3px;background:#60a0e0;border-radius:1px"></div>
<div class="a" style="left:425px;top:579px;font-size:7.3px;line-height:10px;font-weight:bold;color:#fff;white-space:nowrap">AI国語算数トレーニング</div>
<div class="a" style="left:515px;top:581px;font-size:4.3px;line-height:6px;color:#fff;white-space:nowrap">※小学校の範囲まで、学年を超えて先取りし、幅広い力を身に着けられます。</div>

<!-- 紙の教材 -->
<div class="th" style="left:123px;top:602px;width:39px;height:46px;background:radial-gradient(ellipse 11px 12px at 19px 26px,#f0a030 95%,transparent),linear-gradient(#fff,#fff) 4px 6px/31px 3px no-repeat,linear-gradient(#d03030,#d03030) 8px 34px/22px 12px no-repeat,#f0a8b8"></div>
<div class="lb" style="left:188px;top:618px;line-height:8px">4月号/<br>えんぴつワーク 春</div>
<div class="th" style="left:420px;top:603px;width:37px;height:45px;background:radial-gradient(ellipse 10px 11px at 19px 26px,#f0a030 95%,transparent),linear-gradient(#fff,#fff) 4px 6px/29px 3px no-repeat,linear-gradient(#d03030,#d03030) 8px 34px/20px 11px no-repeat,#3aa6d8"></div>
<div class="lb" style="left:485px;top:618px;line-height:8px">8月号/<br>えんぴつワーク 夏</div>
<div class="th" style="left:727px;top:600px;width:38px;height:48px;background:linear-gradient(#e03040,#e03040) 4px 5px/22px 2px no-repeat,linear-gradient(#e03040,#e03040) 4px 9px/18px 2px no-repeat,repeating-linear-gradient(90deg,#f0c060 0 7px,#8cc8e0 7px 12px,transparent 12px 14px) 4px 16px/30px 5px no-repeat,repeating-linear-gradient(90deg,#70b060 0 7px,#f09060 7px 12px,transparent 12px 14px) 6px 25px/28px 5px no-repeat,repeating-linear-gradient(90deg,#f0a0a0 0 7px,#8cc8e0 7px 12px,transparent 12px 14px) 4px 34px/30px 5px no-repeat,#f4f6f6"></div>
<div class="lb" style="left:786px;top:614px;line-height:7.5px">12月号/<br>こくごさんすう<br>じゃんぷワーク</div>

<!-- 思考力ぐんぐん card -->
<div class="a" style="left:237px;top:607px;width:153px;height:87px;background:#fff;border:1.5px solid #3aa8dc;border-radius:7px"></div>
<div class="a" style="left:246px;top:619px;width:47px;height:9px;background:#f6e03a;border-radius:5px"></div>
<div class="a" style="left:250px;top:620px;width:12px;height:7px;background:#222;color:#fff;font-size:4.5px;line-height:7px;text-align:center;font-weight:bold">付録</div>
<div class="a" style="left:265px;top:620px;font-size:4.5px;line-height:7px;font-weight:bold;white-space:nowrap">登録必要</div>
<div class="a" style="left:298px;top:609px;width:22px;height:22px;border-radius:50%;background:#e0203a;color:#fff;font-size:4px;line-height:5px;text-align:center;padding-top:6px;font-weight:bold">POWER<br>UP!</div>
<div class="a" style="left:240px;top:631px;font-size:9.5px;line-height:12px;font-weight:500;white-space:nowrap">「思考力ぐんぐん」</div>
<div class="a" style="left:244px;top:645px;font-size:9.5px;line-height:12px;font-weight:500;white-space:nowrap">ワーク</div>
<div class="a" style="left:246px;top:661px;font-size:5.2px;line-height:9px;font-weight:bold;white-space:nowrap"><span class="ckr"></span>毎号約20課題<br><span class="ckr"></span>「考える力」を養う学習テーマ<br><span class="ckr"></span>特別な出題形式</div>
<div class="a" style="left:329px;top:627px;width:42px;height:58px;background:linear-gradient(#e8d4b8,#e8d4b8) 8px 24px/12px 10px no-repeat,linear-gradient(#e8d4b8,#e8d4b8) 24px 24px/12px 10px no-repeat,linear-gradient(#e8d4b8,#e8d4b8) 14px 40px/12px 10px no-repeat,#f6f1ea;box-shadow:0 1px 2px rgba(0,0,0,.25)"></div>
<div class="a" style="left:354px;top:619px;width:24px;height:30px;background:linear-gradient(90deg,#e03030 0 3px,#f09020 3px 6px,#f0d020 6px 9px,#40a040 9px 12px,#2070c0 12px 15px,#6040a0 15px 18px,#222 18px 21px,#e05080 21px 24px) 0 8px/24px 22px no-repeat,#fff;box-shadow:0 1px 2px rgba(0,0,0,.3)"></div>
<div class="a" style="left:334px;top:686px;font-size:3.6px;line-height:5px;white-space:nowrap">※お届けするのは冊子2冊です。</div>

<!-- エデュトイ -->
<div class="a" style="left:120px;top:658px;width:45px;height:35px;background:#222;border-radius:3px"></div>
<div class="a" style="left:124px;top:662px;width:37px;height:26px;background:repeating-linear-gradient(#f6c8d8 0 3px,#f8f0c0 3px 6px) 8px 4px/22px 18px no-repeat,#7cc8e8"></div>
<div class="a" style="left:146px;top:684px;width:24px;height:14px;background:#c0dcec;border-radius:6px;box-shadow:0 1px 1px rgba(0,0,0,.3)"></div>
<div class="lb" style="left:198px;top:666px;line-height:7.5px">4月号/<br>パワーアップ<br>コントローラー</div>
<div class="th" style="left:397px;top:660px;width:35px;height:28px;background:repeating-linear-gradient(90deg,#e06040 0 2px,transparent 2px 4px) 3px 4px/29px 20px no-repeat,#d8dc70"></div>
<div class="lb" style="left:460px;top:668px;line-height:7.5px">6月号/<br>ひらがなカタカナすうじ<br>かきじゅんポスター</div>
<svg class="a" style="left:559px;top:650px" width="60" height="50" viewBox="0 0 60 50">
<polygon points="3,22 30,7 57,22 30,37" fill="#5fd2d0"/>
<polygon points="3,22 30,37 30,49 3,34" fill="#1d9c9a"/>
<polygon points="30,37 57,22 57,34 30,49" fill="#16827f"/>
<polygon points="7,27 26,37 26,44 7,33" fill="#1a1a1a"/>
<polygon points="34,37 53,27 53,33 34,44" fill="#1a1a1a"/>
<circle cx="22" cy="20" r="5" fill="#fff"/><circle cx="38" cy="20" r="5" fill="#fff"/><circle cx="30" cy="15" r="5" fill="#fff"/><circle cx="30" cy="26" r="5" fill="#fff"/>
</svg>
<div class="lb" style="left:655px;top:659px;line-height:7px">10月号/<br>1にち1かい<br>べんきょうデジタルスタンプ<br><span style="font-size:3.8px">※専用タブレットと一緒に使用</span></div>
<div class="th" style="left:729px;top:656px;width:36px;height:26px;background:radial-gradient(ellipse 12px 8px at 18px 13px,#3a80c8 95%,transparent),linear-gradient(#a8d8f0,#a8d8f0) 3px 4px/30px 18px no-repeat,#e88a50"></div>
<div class="th" style="left:770px;top:656px;width:37px;height:26px;background:linear-gradient(#2a6a40,#2a6a40) 12px 4px/14px 8px no-repeat,linear-gradient(#f6e8b0,#f6e8b0) 3px 3px/31px 20px no-repeat,#e8a040"></div>
<div class="lb" style="left:768px;top:686px">12月号/せかいちず・かんじポスター</div>
<div class="lb" style="left:768px;top:694px;font-size:3.6px;line-height:5px;font-weight:normal">※両面印刷。お届けは1枚です。</div>

<!-- footer -->
<div class="a" style="left:20px;top:709px;font-size:3.8px;line-height:5px;white-space:nowrap;font-weight:bold">※タブレットの2度目のお届けはありません。</div>
<div class="a" style="right:27px;top:709px;font-size:3.6px;line-height:5px;white-space:nowrap;font-weight:bold;text-align:right">※一度お届けした教材は種類に記載し、再入会された際の2度目のお届けはありません。 ※お客さまによりよい教材・サービスをお届けするため、日々改良を重ねております。そのため、ここでご紹介している名称・デザイン・内容・お届け月・アプリの提供期間などは変わることがあります。ご了承ください。<br>※「赤ペン先生」は株式会社ベネッセコーポレーションの登録商標です。</div>
<div class="a" style="left:1019px;top:719px;font-size:4px;line-height:5px">1</div>

</body></html>
